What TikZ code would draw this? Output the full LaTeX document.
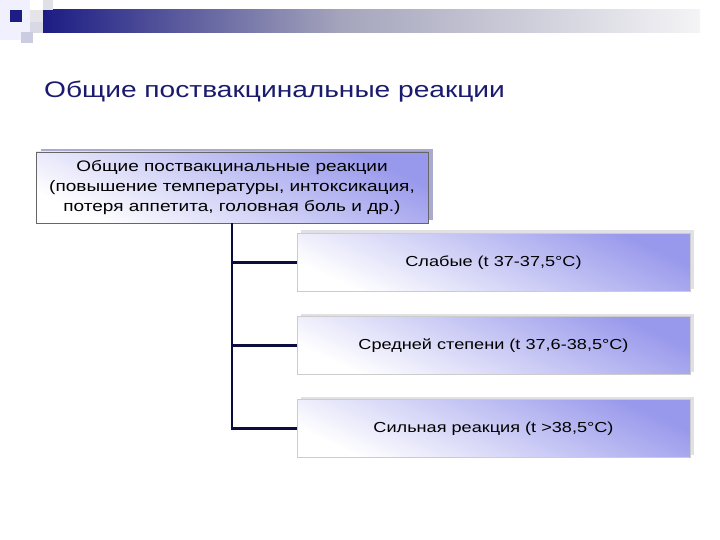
\documentclass[tikz,border=0pt]{standalone}
\usepackage{fontspec}
\setmainfont{Liberation Sans}[FakeStretch=1.25]
\usetikzlibrary{shadows}

\definecolor{titlenavy}{HTML}{1A1A6E}
\definecolor{linknavy}{HTML}{0C0C40}
\definecolor{boxblue}{HTML}{9898EC}
\definecolor{tileA}{HTML}{1C1C84}
\definecolor{barmid}{HTML}{A4A4BC}
\definecolor{barend}{HTML}{F4F4F6}

\tikzset{
  topbox/.style={draw=black!60, line width=0.8pt, shade, top color=boxblue, bottom color=white,
    shading angle=-25, minimum width=392pt, minimum height=71pt, align=center,
    font=\fontsize{15.2}{20}\selectfont,
    drop shadow={shadow xshift=5pt, shadow yshift=3pt, fill=black!25!boxblue!60, opacity=1}},
  levelbox/.style={draw=black!20, line width=0.8pt, shade, top color=boxblue, bottom color=white,
    shading angle=-25, minimum width=393pt, minimum height=58pt,
    font=\fontsize{14.5}{19}\selectfont,
    drop shadow={shadow xshift=4pt, shadow yshift=3pt, fill=boxblue!35!black!15, opacity=1}},
  link/.style={draw=linknavy, line width=2.4pt}
}

\begin{document}
\begin{tikzpicture}[x=1pt, y=-1pt]
      \useasboundingbox[fill=white] (0, 0) rectangle (720, 540);

      % slide decoration
      \fill[black!4!blue!6] (0, 0) rectangle (30, 40);
      \shade[left color=tileA, right color=barmid] (43, 10) rectangle (340, 33);
      \shade[left color=barmid, right color=barend] (339.5, 10) rectangle (700, 33);
      \fill[tileA] (10, 10) rectangle (22, 22);
      \fill[blue!20!black!12] (43, 0) rectangle (53, 10);
      \fill[blue!15!black!10] (30, 10) rectangle (43, 22);
      \fill[blue!35!black!15] (30, 22) rectangle (43, 33);
      \fill[blue!40!black!20] (21, 32) rectangle (33, 43);

      \node[anchor=base west, text=titlenavy, font=\fontsize{22.5}{27}\selectfont, inner sep=0pt]
        (title) at (44, 98) {Общие поствакцинальные реакции};

      \node[topbox] (general) at (232, 187.5)
        {Общие поствакцинальные реакции\\(повышение температуры, интоксикация,\\потеря аппетита, головная боль и др.)};

      \node[levelbox] (weak) at (493.5, 262.5) {Слабые (t 37-37,5°С)};
      \node[levelbox] (medium) at (493.5, 345.5) {Средней степени (t 37,6-38,5°С)};
      \node[levelbox] (strong) at (493.5, 428.5) {Сильная реакция (t >38,5°С)};

      \coordinate (trunkA) at (232, 262.5);
      \coordinate (trunkB) at (232, 345.5);
      \coordinate (trunkC) at (232, 428.5);

      \draw[link] (general.south -| trunkC) -- (trunkC);
      \draw[link] (trunkA) -- (weak.west);
      \draw[link] (trunkB) -- (medium.west);
      \draw[link] ([xshift=-1.2pt]trunkC) -- (strong.west);
    \end{tikzpicture}
\end{document}
